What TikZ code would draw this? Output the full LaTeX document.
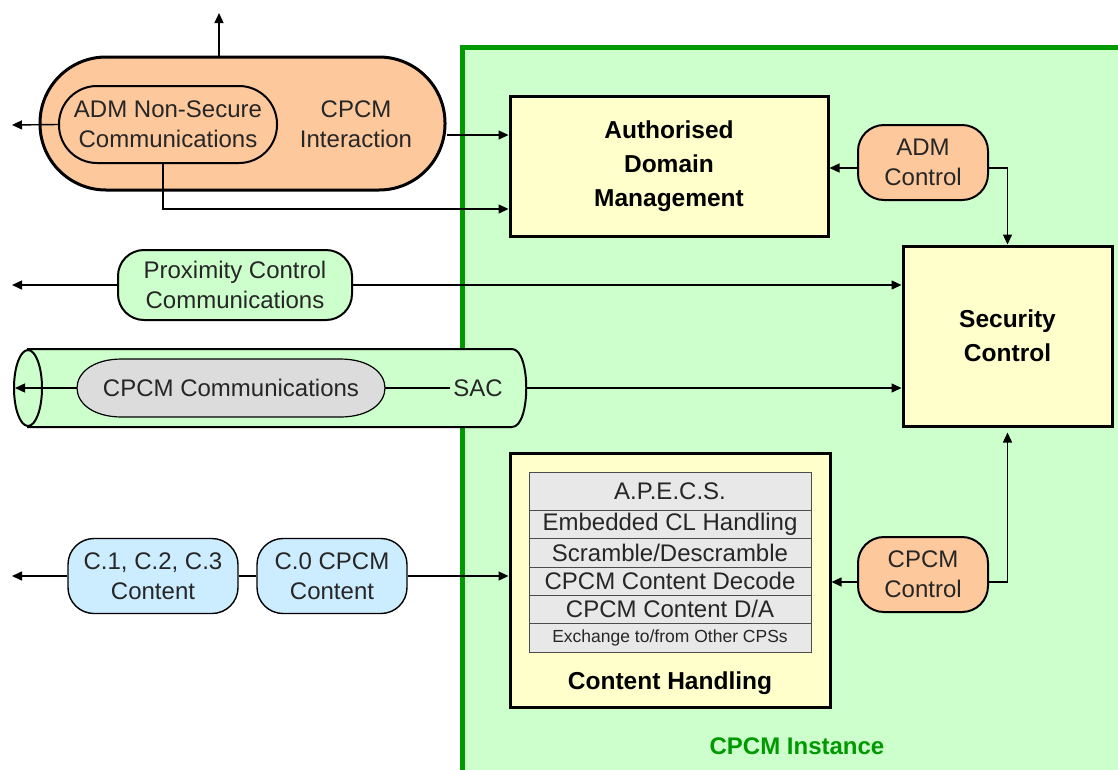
\documentclass[tikz,border=0pt]{standalone}
\usepackage{fontspec}
\setmainfont{Liberation Sans}
\usetikzlibrary{arrows.meta,shapes.geometric}
\definecolor{peach}{HTML}{FCC89C}
\definecolor{mint}{HTML}{CCFFCC}
\definecolor{cream}{HTML}{FFFFCC}
\definecolor{lgray}{HTML}{DCDCDC}
\definecolor{rowgray}{HTML}{E8E8E8}
\definecolor{lblue}{HTML}{CCECFF}
\definecolor{dgreen}{HTML}{009900}
\begin{document}
\begin{tikzpicture}[x=1pt,y=-1pt,
  tri/.style={-{Triangle[length=10pt,width=9pt]}},
  conn/.style={line width=1.4pt,draw=black},
  txt/.style={font=\fontsize{24}{30}\selectfont,align=center,text=black!85},
  btxt/.style={font=\fontsize{24.5}{34}\selectfont\bfseries,align=center,text=black},
  pill/.style={draw=black,line width=2pt,txt,inner sep=0pt},
  bigbox/.style={draw=black,line width=3pt,fill=cream,inner sep=0pt},
  row/.style={draw=black!70,line width=1pt,fill=rowgray,inner sep=0pt,minimum width=282pt,txt}
]
\useasboundingbox (0,0) rectangle (1118,769);
% CPCM instance region
\fill[mint] (462,47) rectangle (1130,780);
\draw[dgreen,line width=5pt] (462,780) -- (462,47) -- (1130,47);
\node[font=\fontsize{24}{30}\selectfont\bfseries,text=dgreen] (inst) at (797,746) {CPCM Instance};

% big orange pill
\node[draw=black,line width=3pt,fill=peach,minimum width=405pt,minimum height=133pt,rounded corners=66pt,inner sep=0pt] (big) at (242.5,123.5) {};
\node[pill,fill=peach,minimum width=218pt,minimum height=77pt,rounded corners=38pt] (inner) at (168,124.5) {ADM Non-Secure\\Communications};
\node[txt] (inter) at (356,124.5) {CPCM\\Interaction};

% boxes
\node[bigbox,minimum width=318pt,minimum height=140pt,btxt] (adm) at (669,166) {Authorised\\Domain\\Management};
\node[bigbox,minimum width=209pt,minimum height=180pt,btxt] (sec) at (1007.5,336) {Security\\Control};
\node[bigbox,minimum width=320pt,minimum height=254pt] (ch) at (670,580) {};
\node[btxt] (chtitle) at (670,683) {Content Handling};

% table rows
\node[row,minimum height=38pt] (r1) at (670,491) {A.P.E.C.S.};
\node[row,minimum height=28pt] (r2) at (670,524) {Embedded CL Handling};
\node[row,minimum height=29pt] (r3) at (670,552.5) {Scramble/Descramble};
\node[row,minimum height=28pt] (r4) at (670,581) {CPCM Content Decode};
\node[row,minimum height=28pt] (r5) at (670,609) {CPCM Content D/A};
\node[row,minimum height=29pt,font=\fontsize{17.5}{20}\selectfont] (r6) at (670,637.5) {Exchange to/from Other CPSs};

% control pills
\node[pill,fill=peach,minimum width=130pt,minimum height=75pt,rounded corners=26pt] (admc) at (923,162.5) {ADM\\Control};
\node[pill,fill=peach,minimum width=130pt,minimum height=75pt,rounded corners=26pt] (cpcmc) at (923,574.5) {CPCM\\Control};

% proximity
\node[pill,fill=mint,minimum width=234pt,minimum height=70pt,rounded corners=26pt] (prox) at (235,285) {Proximity Control\\Communications};

% tube
\filldraw[fill=mint,draw=black,line width=2pt] (28,349) -- (512,349) .. controls (531,349) and (531,427) .. (512,427) -- (28,427) -- cycle;
\draw[black,line width=2pt,fill=mint] (28,388) ellipse [x radius=14pt,y radius=38pt];
\coordinate (tubeL) at (15,388);
\coordinate (tubeR) at (527,388);
\filldraw[draw=black,line width=1.2pt,fill=lgray] (122,359) -- (340,359) .. controls (400,359) and (400,417) .. (340,417) -- (122,417) .. controls (62,417) and (62,359) .. (122,359) -- cycle;
\node[txt,minimum width=308pt,minimum height=58pt,inner sep=0pt] (comm) at (231,388) {CPCM Communications};
\node[txt] (sac) at (478,388) {SAC};

% content pills
\node[pill,fill=lblue,line width=1.4pt,minimum width=170pt,minimum height=75pt,rounded corners=26pt] (c1) at (153,576) {C.1, C.2, C.3\\Content};
\node[pill,fill=lblue,line width=1.4pt,minimum width=150pt,minimum height=75pt,rounded corners=26pt] (c0) at (332,576) {C.0 CPCM\\Content};

% free ends
\coordinate (upend) at (219,13);
\coordinate (lend1) at (12,125);
\coordinate (lend2) at (12,285);
\coordinate (lend4) at (12,576);
\coordinate (a1) at ([yshift=-11.5pt]big.east);

% connectors
\draw[conn,tri] (upend |- big.north) -- (upend);
\draw[conn,tri] (inner.west) -- (lend1);
\draw[conn,tri] (a1) -- (adm.west |- a1);
\draw[conn,tri] ([xshift=-5pt]inner.south) |- ([yshift=-43pt]adm.west);
\draw[conn,tri] ([yshift=-5.5pt]admc.west) -- ([yshift=-5.5pt]adm.east |- admc.west);
\draw[conn,tri] ([yshift=-5.5pt]admc.east) -| (sec.north);
\draw[conn,tri] (prox.west) -- (lend2);
\draw[conn,tri] (prox.east) -- (sec.west |- prox.east);
\draw[conn,tri] (comm.west) -- (tubeL);
\draw[conn] (comm.east) -- (sac.west);
\draw[conn,tri] (tubeR) -- (sec.west |- tubeR);
\draw[conn,tri] ([yshift=-7.5pt]cpcmc.west) -- ([yshift=-7.5pt]ch.east |- cpcmc.west);
\draw[conn,tri] ([yshift=-7.5pt]cpcmc.east) -| ([yshift=-5pt]sec.south);
\draw[conn,tri] (c1.west) -- (lend4);
\draw[conn] (c1.east) -- (c0.west);
\draw[conn,tri] (c0.east) -- (ch.west |- c0.east);
\end{tikzpicture}
\end{document}
